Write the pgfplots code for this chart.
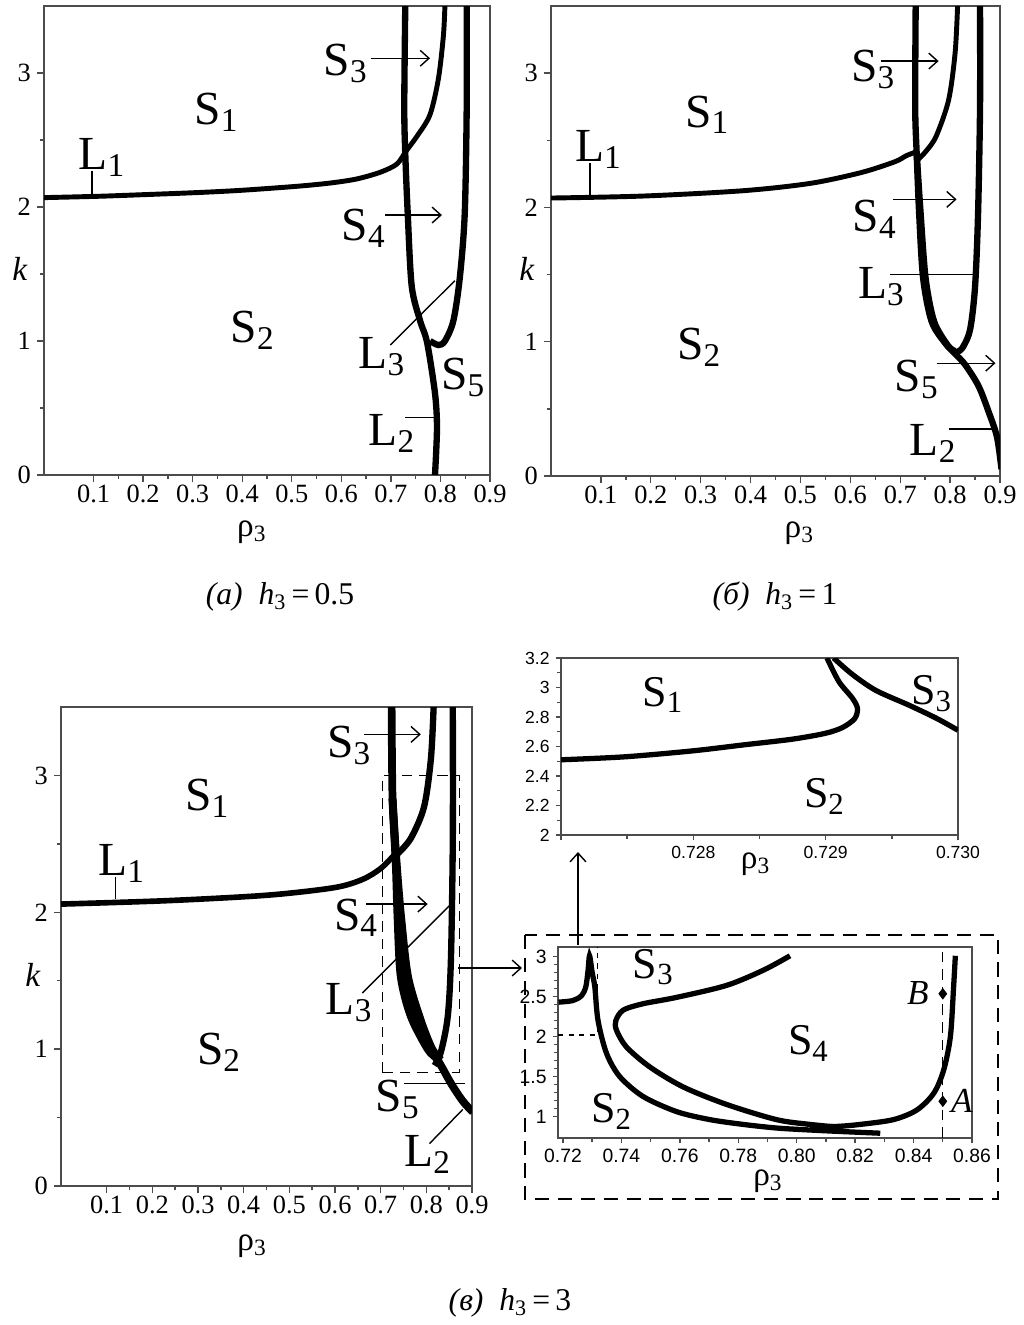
\documentclass[border=0pt]{standalone}
\usepackage{fontspec}
\setmainfont{Liberation Serif}
\newfontfamily\sansf{Liberation Sans}
\usepackage{pgfplots}
\pgfplotsset{compat=1.18}
\usetikzlibrary{arrows.meta}

\pgfplotsset{
  base/.style={
    scale only axis, anchor=south west,
    tick align=outside, tick pos=left,
    axis line style={black!70, line width=1.1pt},
    tick style={black!70, line width=0.8pt},
    major tick length=4pt, minor tick length=2.5pt,
    /pgf/number format/assume math mode=true,
    clip mode=individual,
  },
  panel/.style={base,
    xmin=0, xmax=0.9, ymin=0, ymax=3.5,
    xtick={0.1,0.2,0.3,0.4,0.5,0.6,0.7,0.8,0.9},
    ytick={0,1,2,3},
    minor x tick num=1, minor y tick num=1,
    ticklabel style={font=\fontsize{15}{17}\selectfont},
    xticklabel style={inner sep=1.5pt, /pgf/number format/fixed, /pgf/number format/precision=1},
    xlabel={ρ\textsubscript{3}}, ylabel={\textit{k}},
  },
  curve/.style={black, line width=3.6pt, smooth, tension=0.5, no marks},
  thin curve/.style={black, line width=2.8pt, smooth, tension=0.5, no marks},
}
\tikzset{
  lab/.style={font=\fontsize{27}{30}\selectfont, inner sep=0pt},
  ilab/.style={font=\fontsize{25}{28}\selectfont, inner sep=0pt},
  arr/.style={line width=0.8pt, -{Straight Barb[length=5pt,width=9pt]}},
  ln/.style={line width=0.8pt},
  axlab/.style={font=\fontsize{19}{21}\selectfont, anchor=center, inner sep=0pt},
}

\begin{document}
\begin{tikzpicture}
\useasboundingbox (0,0) rectangle (20.46,-26.5);

% ---------- (a) h3 = 0.5
\begin{axis}[panel, at={(0.88cm,-9.50cm)}, width=8.92cm, height=9.38cm,
  every axis x label/.style={at={(axis description cs:0.466,0)},axlab,yshift=-1.15cm},
  every axis y label/.style={at={(axis description cs:0,0.44)},axlab,xshift=-0.48cm}]
\addplot[thin curve] coordinates {(0,2.07) (0.11,2.08) (0.2,2.092) (0.311,2.108) (0.4,2.125) (0.512,2.155) (0.58,2.18) (0.632,2.21) (0.679,2.26) (0.712,2.32) (0.729,2.41)};
\addplot[thin curve] coordinates {(0.729,2.41) (0.753,2.53) (0.779,2.69) (0.796,2.96) (0.806,3.28) (0.809,3.5)};
\addplot[curve] coordinates {(0.729,3.5) (0.727,2.75) (0.729,2.4) (0.734,1.95) (0.742,1.41) (0.759,1.15) (0.773,0.99) (0.789,0.61) (0.793,0.35) (0.789,0)};
\addplot[curve] coordinates {(0.853,3.5) (0.853,2.75) (0.849,1.95) (0.839,1.47) (0.826,1.15) (0.809,1.0) (0.796,0.97) (0.779,1.0)};
\node[lab] at (axis cs:0.609,3.07) {S\textsubscript{3}};
\draw[arr] (axis cs:0.659,3.11) -- (axis cs:0.779,3.11);
\node[lab] at (axis cs:0.348,2.71) {S\textsubscript{1}};
\node[lab] at (axis cs:0.117,2.37) {L\textsubscript{1}};
\draw[ln] (axis cs:0.097,2.27) -- (axis cs:0.097,2.09);
\node[lab] at (axis cs:0.645,1.84) {S\textsubscript{4}};
\draw[arr] (axis cs:0.689,1.94) -- (axis cs:0.803,1.94);
\node[lab] at (axis cs:0.421,1.08) {S\textsubscript{2}};
\node[lab] at (axis cs:0.682,0.88) {L\textsubscript{3}};
\draw[ln] (axis cs:0.699,0.97) -- (axis cs:0.829,1.45);
\node[lab] at (axis cs:0.846,0.73) {S\textsubscript{5}};
\node[lab] at (axis cs:0.702,0.31) {L\textsubscript{2}};
\draw[ln] (axis cs:0.729,0.43) -- (axis cs:0.786,0.43);
\end{axis}

% ---------- (b) h3 = 1
\begin{axis}[panel, at={(11.02cm,-9.52cm)}, width=8.98cm, height=9.40cm,
  every axis x label/.style={at={(axis description cs:0.553,0)},axlab,yshift=-1.15cm},
  every axis y label/.style={at={(axis description cs:0,0.44)},axlab,xshift=-0.48cm}]
\addplot[thin curve] coordinates {(0,2.07) (0.186,2.085) (0.387,2.125) (0.521,2.18) (0.622,2.26) (0.689,2.34) (0.712,2.385) (0.729,2.41)};
\addplot[thin curve] coordinates {(0.734,2.35) (0.752,2.42) (0.772,2.53) (0.797,2.8) (0.81,3.15) (0.815,3.5)};
\addplot[curve] coordinates {(0.731,3.5) (0.73,2.75) (0.733,2.4) (0.738,1.95) (0.746,1.47) (0.763,1.15) (0.79,0.99) (0.81,0.91) (0.83,0.83) (0.857,0.67) (0.877,0.48) (0.894,0.29) (0.903,0.05)};
\addplot[curve] coordinates {(0.733,2.4) (0.741,1.95) (0.751,1.47) (0.768,1.15) (0.796,0.97) (0.81,0.93)};
\addplot[curve] coordinates {(0.86,3.5) (0.86,2.75) (0.856,1.95) (0.85,1.41) (0.84,1.09) (0.824,0.95) (0.81,0.92)};
\node[lab] at (axis cs:0.646,3.03) {S\textsubscript{3}};
\draw[arr] (axis cs:0.662,3.09) -- (axis cs:0.777,3.09);
\node[lab] at (axis cs:0.313,2.69) {S\textsubscript{1}};
\node[lab] at (axis cs:0.095,2.43) {L\textsubscript{1}};
\draw[ln] (axis cs:0.0785,2.33) -- (axis cs:0.0785,2.09);
\node[lab] at (axis cs:0.649,1.91) {S\textsubscript{4}};
\draw[arr] (axis cs:0.686,2.06) -- (axis cs:0.813,2.06);
\node[lab] at (axis cs:0.662,1.41) {L\textsubscript{3}};
\draw[ln] (axis cs:0.679,1.5) -- (axis cs:0.847,1.5);
\node[lab] at (axis cs:0.297,0.96) {S\textsubscript{2}};
\node[lab] at (axis cs:0.733,0.72) {S\textsubscript{5}};
\draw[arr] (axis cs:0.773,0.84) -- (axis cs:0.891,0.84);
\node[lab] at (axis cs:0.766,0.24) {L\textsubscript{2}};
\draw[ln] (axis cs:0.797,0.35) -- (axis cs:0.884,0.35);
\end{axis}

% ---------- (v) h3 = 3
\begin{axis}[panel, at={(1.22cm,-23.72cm)}, width=8.22cm, height=9.58cm,
  every axis x label/.style={at={(axis description cs:0.465,0)},axlab,yshift=-1.2cm},
  every axis y label/.style={at={(axis description cs:0,0.44)},axlab,xshift=-0.56cm}]
\addplot[thin curve, line width=3.2pt] coordinates {(0,2.06) (0.232,2.085) (0.452,2.125) (0.598,2.18) (0.66,2.24) (0.7,2.32) (0.73,2.42)};
\addplot[curve] coordinates {(0.735,2.42) (0.766,2.54) (0.795,2.77) (0.81,3.12) (0.816,3.5)};
\addplot[curve, line width=4.4pt] coordinates {(0.724,3.5) (0.726,2.83) (0.733,2.36) (0.737,1.96) (0.744,1.53) (0.766,1.24) (0.803,1.0) (0.825,0.92) (0.854,0.75) (0.88,0.62) (0.902,0.54)};
\addplot[curve, line width=4.4pt] coordinates {(0.726,2.83) (0.734,2.36) (0.741,1.96) (0.752,1.53) (0.776,1.23) (0.808,1.0) (0.828,0.92)};
\addplot[curve, line width=4.4pt] coordinates {(0.726,2.83) (0.735,2.36) (0.745,1.96) (0.76,1.53) (0.788,1.21) (0.813,1.0) (0.832,0.92)};
\addplot[curve] coordinates {(0.858,3.5) (0.858,2.54) (0.854,1.67) (0.847,1.24) (0.832,0.98) (0.818,0.88)};
\node[lab] at (axis cs:0.631,3.22) {S\textsubscript{3}};
\draw[arr] (axis cs:0.664,3.3) -- (axis cs:0.788,3.3);
\node[lab] at (axis cs:0.32,2.83) {S\textsubscript{1}};
\node[lab] at (axis cs:0.133,2.36) {L\textsubscript{1}};
\draw[ln] (axis cs:0.119,2.26) -- (axis cs:0.119,2.1);
\node[lab] at (axis cs:0.646,1.96) {S\textsubscript{4}};
\draw[arr] (axis cs:0.668,2.06) -- (axis cs:0.803,2.06);
\node[lab] at (axis cs:0.631,1.34) {L\textsubscript{3}};
\draw[ln] (axis cs:0.66,1.41) -- (axis cs:0.851,2.05);
\node[lab] at (axis cs:0.346,0.98) {S\textsubscript{2}};
\node[lab] at (axis cs:0.737,0.63) {S\textsubscript{5}};
\draw[ln] (axis cs:0.752,0.75) -- (axis cs:0.884,0.75);
\node[lab] at (axis cs:0.803,0.23) {L\textsubscript{2}};
\draw[ln] (axis cs:0.807,0.31) -- (axis cs:0.88,0.56);
\draw[dash pattern=on 6pt off 4pt, line width=0.7pt] (axis cs:0.704,0.83) rectangle (axis cs:0.873,3.0);
\end{axis}

% ---------- upper inset
\begin{axis}[base, at={(11.22cm,-16.70cm)}, width=7.94cm, height=3.54cm,
  xmin=0.727, xmax=0.730, ymin=2, ymax=3.2,
  xtick={0.727,0.728,0.729,0.730}, xticklabels={,0.728,0.729,0.730},
  ytick={2,2.2,2.4,2.6,2.8,3,3.2},
  minor x tick num=1, minor y tick num=1,
  major tick length=3pt, minor tick length=2pt,
  ticklabel style={font=\sansf\fontsize{10}{11}\selectfont},
  xlabel={ρ\textsubscript{3}},
  every axis x label/.style={at={(axis description cs:0.49,0)},axlab,yshift=-0.58cm}]
\addplot[curve, line width=3pt] coordinates {(0.727,2.51) (0.72748,2.53) (0.72799,2.57) (0.72837,2.61) (0.72875,2.65) (0.7290,2.69) (0.72913,2.73) (0.72922,2.79) (0.72924,2.86) (0.7292,2.93) (0.7291,3.04) (0.72901,3.2)};
\addplot[curve, line width=3pt] coordinates {(0.72906,3.2) (0.7292,3.09) (0.72938,2.98) (0.72963,2.88) (0.72984,2.79) (0.7300,2.71)};
\node[ilab] at (axis cs:0.72777,2.95) {S\textsubscript{1}};
\node[ilab] at (axis cs:0.72899,2.26) {S\textsubscript{2}};
\node[ilab] at (axis cs:0.7298,2.96) {S\textsubscript{3}};
\end{axis}

% ---------- lower inset
\begin{axis}[base, at={(11.16cm,-22.76cm)}, width=8.28cm, height=3.82cm,
  xmin=0.7183, xmax=0.86, ymin=0.73, ymax=3.12,
  xtick={0.72,0.74,0.76,0.78,0.80,0.82,0.84,0.86},
  xticklabels={0.72,0.74,0.76,0.78,0.80,0.82,0.84,0.86},
  ytick={1,1.5,2,2.5,3},
  minor x tick num=1, minor y tick num=4,
  major tick length=3pt, minor tick length=2pt,
  ticklabel style={font=\sansf\fontsize{11}{12}\selectfont},
  xlabel={ρ\textsubscript{3}},
  every axis x label/.style={at={(axis description cs:0.507,0)},axlab,yshift=-0.86cm}]
\addplot[curve, line width=3pt] coordinates {(0.7185,2.43) (0.7234,2.45) (0.7263,2.51) (0.7278,2.62) (0.7286,2.83) (0.7291,3.01) (0.7300,2.80) (0.7309,2.62) (0.732,2.2) (0.7349,1.79) (0.7394,1.5) (0.7474,1.25) (0.7589,1.06) (0.7703,0.96) (0.7817,0.90) (0.7931,0.855) (0.8046,0.83) (0.816,0.81) (0.8286,0.79)};
\addplot[curve, line width=3pt] coordinates {(0.7977,3.01) (0.7886,2.83) (0.776,2.64) (0.7589,2.49) (0.7474,2.41) (0.7406,2.33) (0.7381,2.2) (0.7383,2.08) (0.7417,1.87) (0.7497,1.62) (0.7611,1.37) (0.776,1.15) (0.7931,0.96) (0.8046,0.9) (0.816,0.86)};
\addplot[curve, line width=3pt] coordinates {(0.8543,3.01) (0.8537,2.62) (0.8526,2.0) (0.8503,1.58) (0.8469,1.29) (0.8411,1.08) (0.8331,0.96) (0.8217,0.90) (0.8137,0.875) (0.8046,0.87)};
\draw[dash pattern=on 6pt off 4pt, line width=0.7pt] (axis cs:0.85,0.73) -- (axis cs:0.85,3.12);
\draw[dashed, line width=0.7pt] (axis cs:0.7183,2.02) -- (axis cs:0.7317,2.02) -- (axis cs:0.7317,3.12);
\addplot[only marks, mark=diamond*, mark size=3pt, black] coordinates {(0.85,2.535) (0.85,1.19)};
\node[ilab] at (axis cs:0.7509,2.87) {S\textsubscript{3}};
\node[ilab] at (axis cs:0.804,1.91) {S\textsubscript{4}};
\node[ilab] at (axis cs:0.7366,1.06) {S\textsubscript{2}};
\node[font=\fontsize{20}{22}\selectfont\itshape] at (axis cs:0.8415,2.55) {B};
\node[font=\fontsize{20}{22}\selectfont\itshape] at (axis cs:0.8565,1.2) {A};
\end{axis}

% frames and pointers
\draw[dash pattern=on 8pt off 5pt, line width=0.7pt] (10.5,-18.7) rectangle (19.96,-23.98);
\draw[arr] (9.16,-19.36) -- (10.44,-19.36);
\draw[arr] (11.56,-18.9) -- (11.56,-17.04);

% captions
\node[font=\fontsize{18}{20}\selectfont] at (5.6,-11.94) {\textit{(a)}\enspace \textit{h}\textsubscript{3}\,=\,0.5};
\node[font=\fontsize{18}{20}\selectfont] at (15.5,-11.94) {\textit{(б)}\enspace \textit{h}\textsubscript{3}\,=\,1};
\node[font=\fontsize{18}{20}\selectfont] at (10.2,-26.06) {\textit{(в)}\enspace \textit{h}\textsubscript{3}\,=\,3};
\end{tikzpicture}
\end{document}
